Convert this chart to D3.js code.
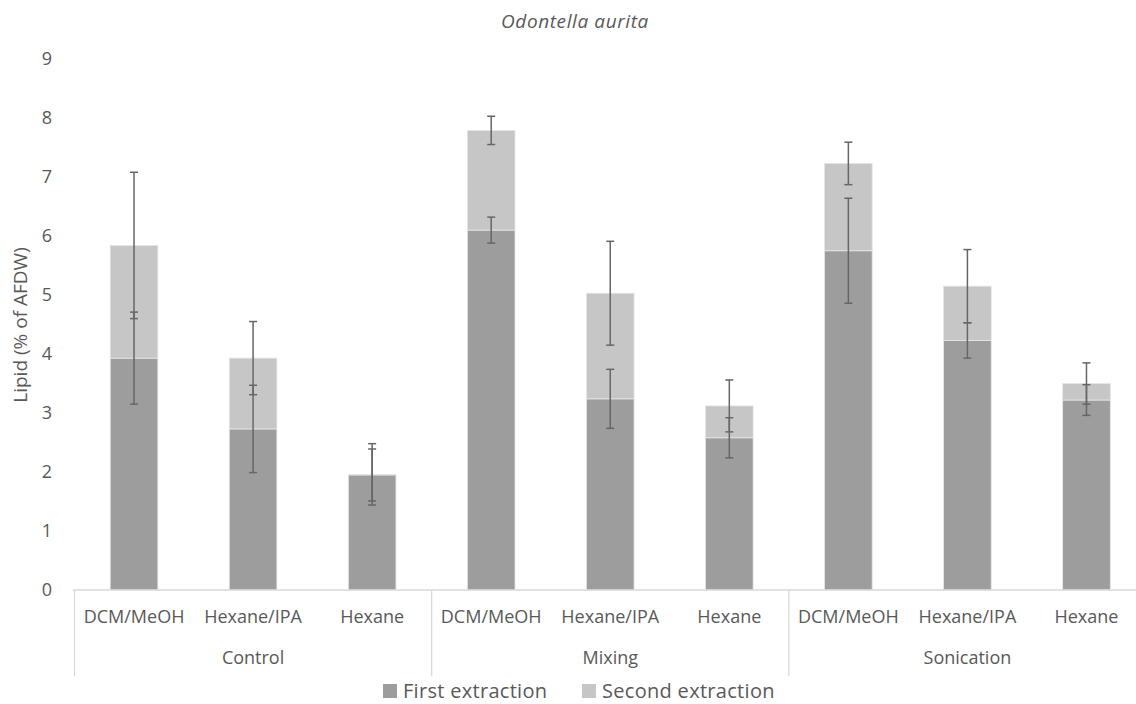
<!DOCTYPE html>
<html>
<head>
<meta charset="utf-8">
<script src="https://cdn.jsdelivr.net/npm/d3@7"></script>
<style>
  body { margin: 0; background: #fff; }
  text { font-family: "Open Sans", sans-serif; fill: #595959; }
</style>
</head>
<body>
<script>
var width = 1136
var height = 704

// data
var groups = ["Control", "Mixing", "Sonication"]
var solvents = ["DCM/MeOH", "Hexane/IPA", "Hexane"]
var firstExtraction = [3.93, 2.73, 1.95, 6.10, 3.24, 2.58, 5.75, 4.23, 3.22]
var secondExtraction = [1.91, 1.20, 0.01, 1.69, 1.79, 0.54, 1.48, 0.92, 0.28]
var firstError = [0.78, 0.74, 0.44, 0.22, 0.50, 0.34, 0.89, 0.30, 0.26]
var secondError = [1.24, 0.62, 0.52, 0.24, 0.88, 0.44, 0.36, 0.62, 0.35]
var yTicks = [0, 1, 2, 3, 4, 5, 6, 7, 8, 9]

var cats = []
groups.forEach(function(g) {
  solvents.forEach(function(s) { cats.push(g + "|" + s) })
})

var rows = cats.map(function(c, i) {
  return {
    key: c,
    solvent: c.split("|")[1],
    first: firstExtraction[i],
    second: secondExtraction[i],
    e1: firstError[i],
    e2: secondError[i]
  }
})

var svg = d3.select("body")
  .append("svg")
  .attr("width", width)
  .attr("height", height)

var x = d3.scaleBand()
  .domain(cats)
  .range([74.5, 1146])
  .paddingInner(0.6)
  .paddingOuter(0.3)

var y = d3.scaleLinear()
  .domain([0, 9])
  .range([590, 59])

// title
svg.append("text")
  .attr("x", 575)
  .attr("y", 28)
  .attr("text-anchor", "middle")
  .style("font-style", "italic")
  .style("font-size", "19px")
  .style("letter-spacing", "0.6px")
  .text("Odontella aurita")

// y axis labels
svg.selectAll(".ytick")
  .data(yTicks)
  .enter()
  .append("text")
  .attr("class", "ytick")
  .attr("x", 52)
  .attr("y", function(d) { return y(d) + 6 })
  .attr("text-anchor", "end")
  .style("font-size", "18px")
  .text(function(d) { return d })

svg.append("text")
  .attr("transform", "translate(27,325) rotate(-90)")
  .attr("text-anchor", "middle")
  .style("font-size", "19px")
  .text("Lipid (% of AFDW)")

// stacked bars
var stack = d3.stack().keys(["first", "second"])(rows)
var colors = { first: "#9d9d9d", second: "#c6c6c6" }

svg.selectAll(".layer")
  .data(stack)
  .enter()
  .append("g")
  .attr("class", "layer")
  .attr("fill", function(d) { return colors[d.key] })
  .selectAll("rect")
  .data(function(d) { return d })
  .enter()
  .append("rect")
  .attr("x", function(d) { return x(d.data.key) })
  .attr("width", x.bandwidth())
  .attr("y", function(d) { return y(d[1]) })
  .attr("height", function(d) { return y(d[0]) - y(d[1]) })
  .attr("stroke", "#e6e6e6")
  .attr("stroke-width", 0.8)

// error bars
var errs = []
rows.forEach(function(r) {
  errs.push({ key: r.key, v: r.first, e: r.e1 })
  errs.push({ key: r.key, v: r.first + r.second, e: r.e2 })
})

var eb = svg.selectAll(".err")
  .data(errs)
  .enter()
  .append("g")
  .attr("class", "err")
  .attr("stroke", "#666")
  .attr("stroke-width", 1.5)

eb.append("line")
  .attr("x1", function(d) { return x(d.key) + x.bandwidth() / 2 })
  .attr("x2", function(d) { return x(d.key) + x.bandwidth() / 2 })
  .attr("y1", function(d) { return y(d.v + d.e) })
  .attr("y2", function(d) { return y(d.v - d.e) })

eb.selectAll(".cap")
  .data(function(d) { return [[d, d.v + d.e], [d, d.v - d.e]] })
  .enter()
  .append("line")
  .attr("x1", function(d) { return x(d[0].key) + x.bandwidth() / 2 - 4 })
  .attr("x2", function(d) { return x(d[0].key) + x.bandwidth() / 2 + 4 })
  .attr("y1", function(d) { return y(d[1]) })
  .attr("y2", function(d) { return y(d[1]) })

// x axis line and group separators
svg.append("line")
  .attr("x1", 73).attr("x2", width)
  .attr("y1", y(0)).attr("y2", y(0))
  .attr("stroke", "#d9d9d9")
  .attr("stroke-width", 1.3)

var step = x.step()
var sep = [0, 3, 6].map(function(i) { return x(cats[i]) - (step - x.bandwidth()) / 2 })

svg.selectAll(".sep")
  .data(sep)
  .enter()
  .append("line")
  .attr("x1", function(d) { return d })
  .attr("x2", function(d) { return d })
  .attr("y1", y(0))
  .attr("y2", 676)
  .attr("stroke", "#d9d9d9")
  .attr("stroke-width", 1.3)

svg.selectAll(".cat")
  .data(rows)
  .enter()
  .append("text")
  .attr("x", function(d) { return x(d.key) + x.bandwidth() / 2 })
  .attr("y", 623)
  .attr("text-anchor", "middle")
  .style("font-size", "18px")
  .text(function(d) { return d.solvent })

svg.selectAll(".grp")
  .data(groups)
  .enter()
  .append("text")
  .attr("x", function(d, i) { return x(cats[i * 3 + 1]) + x.bandwidth() / 2 })
  .attr("y", 664)
  .attr("text-anchor", "middle")
  .style("font-size", "18px")
  .text(function(d) { return d })

// legend
var legend = [
  { name: "First extraction", key: "first", x: 383 },
  { name: "Second extraction", key: "second", x: 582 }
]
var lg = svg.selectAll(".lg")
  .data(legend)
  .enter()
  .append("g")
  .attr("transform", function(d) { return "translate(" + d.x + ",684)" })

lg.append("rect")
  .attr("width", 14).attr("height", 14)
  .attr("fill", function(d) { return colors[d.key] })

lg.append("text")
  .attr("x", 20)
  .attr("y", 14)
  .style("font-size", "20px")
  .style("letter-spacing", "0.3px")
  .text(function(d) { return d.name })
</script>
</body>
</html>
